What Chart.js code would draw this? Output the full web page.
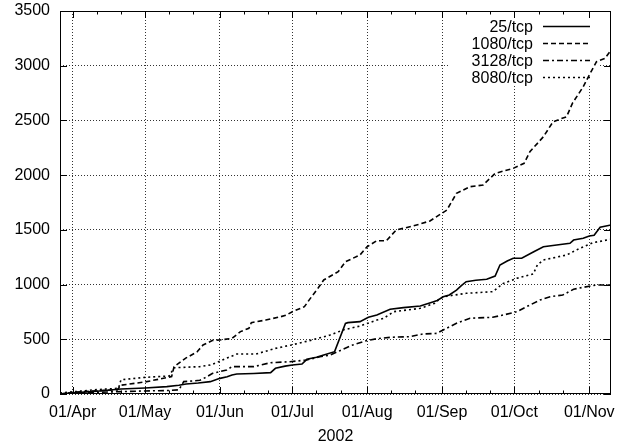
<!DOCTYPE html>
<html>
<head>
<meta charset="utf-8">
<script src="https://cdn.jsdelivr.net/npm/chart.js@4/dist/chart.umd.min.js"></script>
<style>
  html, body { margin: 0; padding: 0; background: #fff; }
  #wrap { width: 626px; height: 446px; }
</style>
</head>
<body>
<div id="wrap"><canvas id="c" width="626" height="446"></canvas></div>
<script>
// ---- Data (x = days since 01/Apr 2002) ----
const monthDays   = [0, 30, 61, 91, 122, 153, 183, 214];
const monthLabels = ['01/Apr', '01/May', '01/Jun', '01/Jul', '01/Aug', '01/Sep', '01/Oct', '01/Nov'];
const xTitle = '2002';
const seriesNames = ['25/tcp', '1080/tcp', '3128/tcp', '8080/tcp'];

const days25 = [-5.25, 0, 10, 20, 30, 39, 44, 47, 52, 57, 61, 64, 66, 68, 75, 82, 84, 88, 91, 95, 97, 101, 104, 108.5, 113, 114, 119, 122.5, 126, 131.5, 137, 144, 149.5, 151, 153.5, 156, 159, 161, 163, 167, 171.5, 175, 177, 180, 182.5, 186, 191, 195, 200.5, 206, 207.5, 211.5, 214, 216, 218.5, 223];
const vals25 = [0, 10, 25, 45, 55, 67, 80, 91, 100, 113, 143, 158, 174, 183, 188, 195, 235, 255, 265, 274, 317, 335, 356, 387, 645, 652, 661, 701, 722, 774, 789, 804, 844, 855, 889, 905, 950, 990, 1026, 1040, 1048, 1078, 1179, 1215, 1240, 1240, 1300, 1346, 1362, 1377, 1407, 1423, 1444, 1450, 1523, 1544];

const days1080 = [-5.25, 0, 10, 18.5, 20, 30, 39, 41, 42, 47, 51.5, 54, 58, 61, 66, 69.5, 73, 74, 80, 86, 88.6, 91, 96, 98, 101.6, 104, 110, 113, 119, 122, 126, 130, 134, 141, 148, 155, 159, 164.6, 170, 175, 182.5, 187, 189.4, 195, 199, 204.6, 207, 211.5, 214, 217, 220.5, 223];
const vals1080 = [0, 15, 30, 38, 80, 110, 150, 160, 250, 330, 384, 448, 490, 494, 508, 570, 600, 652, 676, 705, 722, 752, 798, 860, 966, 1042, 1118, 1209, 1270, 1346, 1401, 1401, 1499, 1535, 1581, 1681, 1834, 1894, 1910, 2016, 2062, 2108, 2214, 2351, 2488, 2534, 2656, 2808, 2915, 3037, 3067, 3143];

const days3128 = [-5.25, 0, 10, 20, 30, 40, 44, 46, 52.7, 55.4, 58, 63.8, 66, 75, 82, 90, 97, 102.4, 106.6, 110.7, 116, 121.7, 126, 131.5, 139.7, 145, 150.8, 153.5, 159, 164.6, 174, 178.4, 184, 188, 193.6, 197.8, 203, 207.5, 211.5, 217, 223];
const vals3128 = [0, 5, 15, 22, 28, 32, 38, 113, 125, 155, 189, 219, 250, 250, 286, 295, 311, 341, 356, 396, 448, 487, 505, 518, 524, 548, 554, 585, 646, 692, 701, 722, 752, 798, 859, 889, 904, 957, 975, 996, 996];

const days8080 = [-5.25, 0, 10, 19, 20, 30, 40, 42, 52.7, 57, 60, 64, 68, 76, 84, 90.6, 98, 106.6, 112, 119, 126, 128.7, 133, 144, 150, 151.5, 153.5, 163, 174, 178.4, 184, 190.8, 192.5, 195, 204.6, 210, 215.6, 223];
const vals8080 = [10, 20, 40, 52, 130, 152, 165, 240, 250, 265, 290, 330, 365, 365, 417, 448, 487, 539, 585, 621, 676, 690, 752, 783, 829, 860, 889, 920, 935, 1011, 1057, 1097, 1180, 1225, 1270, 1331, 1383, 1414];

// ---- Build ----
const FONT = "'Liberation Sans', Arial, Helvetica, sans-serif";
const pts = (xs, ys) => xs.map((x, i) => ({ x: x, y: ys[i] }));
const styles = [
  { dash: [] },
  { dash: [5, 3] },
  { dash: [6, 3, 2, 3] },
  { dash: [2, 3] }
];
const seriesData = [pts(days25, vals25), pts(days1080, vals1080), pts(days3128, vals3128), pts(days8080, vals8080)];

const datasets = seriesNames.map((name, i) => ({
  label: name,
  data: seriesData[i],
  borderColor: '#000',
  backgroundColor: '#000',
  borderWidth: 1.6,
  borderDash: styles[i].dash,
  pointRadius: 0,
  tension: 0,
  fill: false
}));

const decorPlugin = {
  id: 'decor',
  beforeDatasetsDraw(chart) {
    const { ctx, chartArea: a } = chart;
    ctx.save();
    ctx.fillStyle = '#fff';
    ctx.fillRect(a.right - 161, a.top + 1, 150, 74);
    ctx.restore();
  },
  afterDraw(chart) {
    const { ctx, chartArea: a, scales } = chart;
    ctx.save();
    ctx.strokeStyle = '#000';
    ctx.lineWidth = 1;
    ctx.setLineDash([]);
    ctx.strokeRect(a.left + 0.5, a.top + 0.5, a.right - a.left - 1, a.bottom - a.top - 1);
    // inward y ticks (left and right)
    ctx.beginPath();
    scales.y.ticks.forEach(t => {
      const py = Math.round(scales.y.getPixelForValue(t.value)) + 0.5;
      ctx.moveTo(a.left, py); ctx.lineTo(a.left + 7, py);
      ctx.moveTo(a.right, py); ctx.lineTo(a.right - 7, py);
    });
    // inward x ticks (bottom and top), major at month starts, minor at +10/+20 days
    const xs = scales.x;
    monthDays.forEach((d, i) => {
      const next = i + 1 < monthDays.length ? monthDays[i + 1] : d + 30;
      [[d, 7], [d + 10, 3.5], [d + 20, 3.5]].forEach(([v, len]) => {
        if (v >= next || v < xs.min || v > xs.max) return;
        const px = Math.round(xs.getPixelForValue(v)) + 0.5;
        ctx.moveTo(px, a.bottom); ctx.lineTo(px, a.bottom - len);
        ctx.moveTo(px, a.top); ctx.lineTo(px, a.top + len);
      });
    });
    ctx.stroke();
    // legend: text right-aligned, sample line to the right
    ctx.font = '16px ' + FONT;
    ctx.fillStyle = '#000';
    ctx.textAlign = 'right';
    ctx.textBaseline = 'middle';
    chart.data.datasets.forEach((ds, i) => {
      const y = a.top + 15.5 + i * 17;
      ctx.fillText(ds.label, a.right - 78, y + 1);
      ctx.beginPath();
      ctx.lineWidth = ds.borderWidth;
      ctx.setLineDash(ds.borderDash);
      ctx.moveTo(a.right - 68, y);
      ctx.lineTo(a.right - 21, y);
      ctx.stroke();
    });
    ctx.restore();
  }
};

new Chart(document.getElementById('c'), {
  type: 'line',
  data: { datasets: datasets },
  options: {
    responsive: false,
    animation: false,
    devicePixelRatio: 1,
    layout: { padding: { left: 0, right: 15, top: 11, bottom: 0 } },
    plugins: { legend: { display: false }, tooltip: { enabled: false } },
    scales: {
      x: {
        type: 'linear',
        min: -5.25,
        max: 223,
        afterBuildTicks(scale) { scale.ticks = monthDays.map(v => ({ value: v })); },
        afterFit(scale) { scale.height = 52; },
        ticks: {
          autoSkip: false,
          maxRotation: 0,
          padding: 9,
          color: '#000',
          font: { family: FONT, size: 16 },
          callback: (v) => { const i = monthDays.indexOf(v); return i >= 0 ? monthLabels[i] : ''; }
        },
        grid: { drawTicks: false, color: 'rgba(0,0,0,0.8)', lineWidth: 1 },
        border: { display: false, dash: [1, 2] },
        title: { display: true, text: xTitle, color: '#000', font: { family: FONT, size: 16 }, padding: { top: 0, bottom: 0 } }
      },
      y: {
        min: 0,
        max: 3500,
        afterFit(scale) { scale.width = 60; },
        ticks: { stepSize: 500, padding: 0, color: '#000', font: { family: FONT, size: 16 }, callback: (v) => String(v) },
        grid: { drawTicks: true, tickLength: 10, tickColor: 'rgba(0,0,0,0)', color: 'rgba(0,0,0,0.8)', lineWidth: 1 },
        border: { display: false, dash: [1, 2] }
      }
    }
  },
  plugins: [decorPlugin]
});
</script>
</body>
</html>
